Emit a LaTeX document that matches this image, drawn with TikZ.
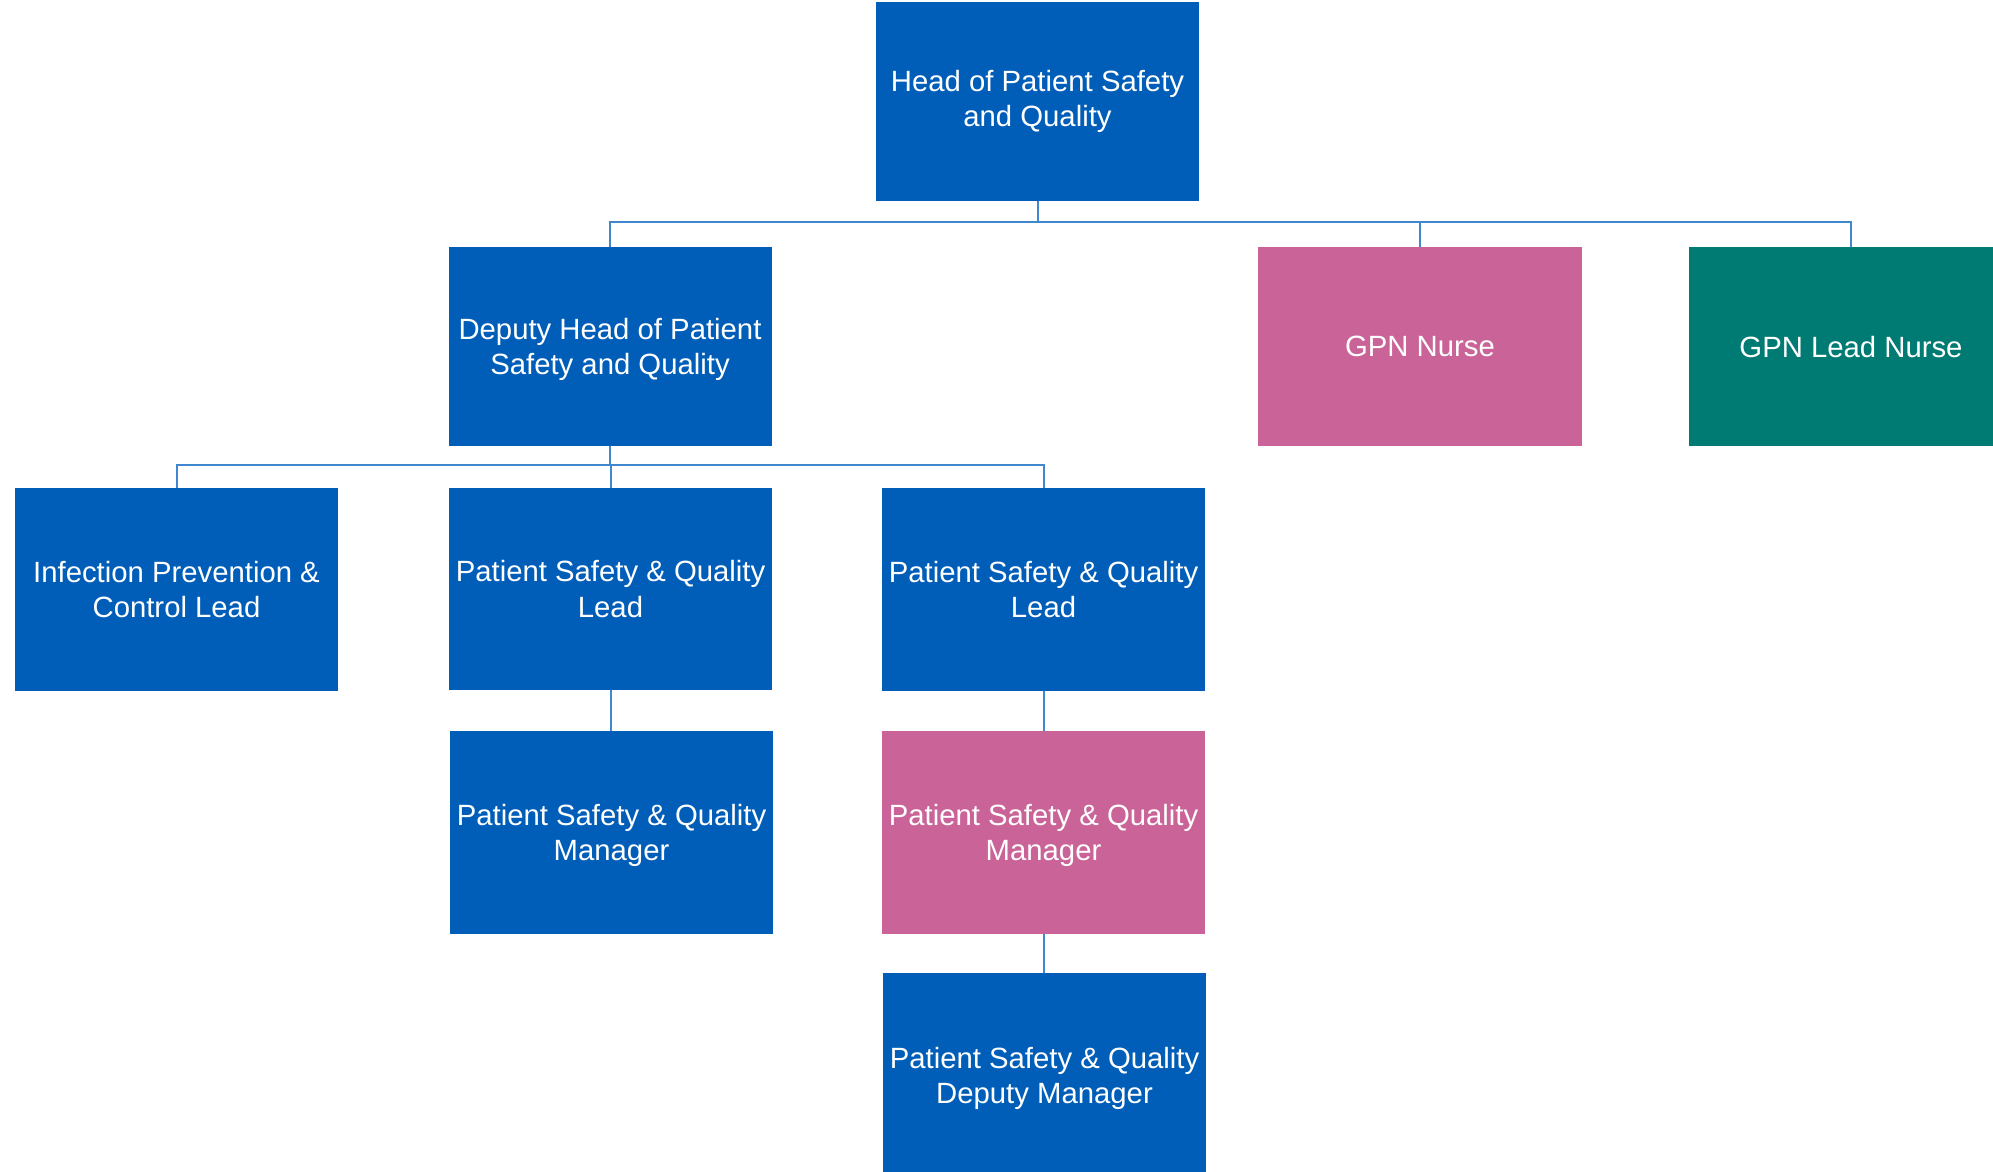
\documentclass[tikz,border=0pt]{standalone}
\usepackage{fontspec}
\setmainfont{Liberation Sans}
\definecolor{nhsblue}{HTML}{005EB8}
\definecolor{nhspink}{HTML}{CA6398}
\definecolor{nhsteal}{HTML}{007B73}
\definecolor{linkblue}{HTML}{3F88CF}
\begin{document}
\begin{tikzpicture}[x=1pt,y=-1pt,
  box/.style={rectangle, minimum width=323pt, minimum height=200pt, inner sep=0pt,
    text=white, align=center, text depth=0pt, font=\fontsize{29.3}{35.5}\selectfont},
  bluebox/.style={box, fill=nhsblue},
  pinkbox/.style={box, fill=nhspink},
  tealbox/.style={box, fill=nhsteal},
  link/.style={draw=linkblue, line width=2pt}]
\useasboundingbox (0,0) rectangle (1993,1171);
\clip (0,0) rectangle (1993,1171);
\fill[white] (0,0) rectangle (1993,1171);
\node[bluebox, minimum height=199pt, text depth=] (head) at (1037.5,101.5) {Head of Patient Safety\\and Quality};
\node[bluebox, minimum height=199pt] (dep) at (610,346.5) {Deputy Head of Patient\\Safety and Quality};
\node[pinkbox, minimum height=199pt, minimum width=324pt] (gpn) at (1420,346.5) {GPN Nurse};
\node[tealbox, minimum height=199pt, minimum width=324pt] (gpnl) at (1851,346.5) {GPN Lead Nurse};
\node[bluebox, minimum height=203pt] (ipc) at (176.5,589.5) {Infection Prevention \&\\Control Lead};
\node[bluebox, minimum height=202pt] (psql1) at (610.5,589) {Patient Safety \& Quality\\Lead};
\node[bluebox, minimum height=203pt] (psql2) at (1043.5,589.5) {Patient Safety \& Quality\\Lead};
\node[bluebox, minimum height=203pt] (psqm1) at (611.5,832.5) {Patient Safety \& Quality\\Manager};
\node[pinkbox, minimum height=203pt] (psqm2) at (1043.5,832.5) {Patient Safety \& Quality\\Manager};
\node[bluebox, minimum height=205pt] (psqdm) at (1044.5,1075.5) {Patient Safety \& Quality\\Deputy Manager};
\coordinate (busA) at (0,222);
\coordinate (busB) at (0,464.5);
\draw[link] (head.south) -- (head.south |- busA) -| (dep.north);
\draw[link] (head.south |- busA) -| (gpn.north);
\draw[link] (head.south |- busA) -| (gpnl.north);
\draw[link] (dep.south) -- (dep.south |- busB) -| (ipc.north);
\draw[link] (dep.south |- busB) -| (psql1.north);
\draw[link] (dep.south |- busB) -| (psql2.north);
\draw[link] (psql1.south) -- (psqm1.north -| psql1.south);
\draw[link] (psql2.south) -- (psqm2.north);
\draw[link] (psqm2.south) -- (psqm2.south |- psqdm.north);
\end{tikzpicture}
\end{document}
